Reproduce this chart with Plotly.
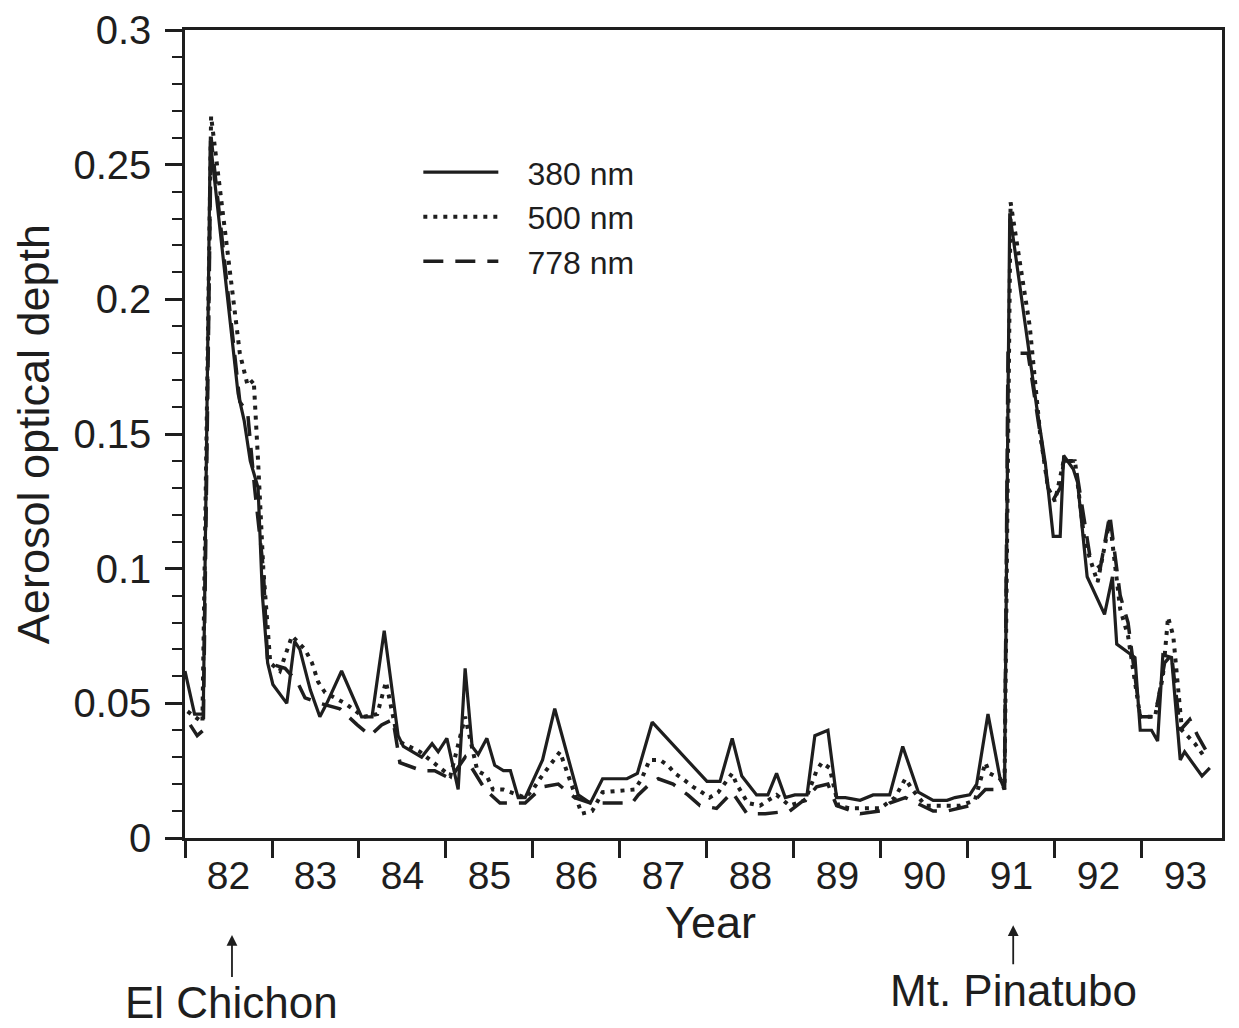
import plotly.graph_objects as go

# ---- data (year in two-digit form) ----
year_380 = [82.00, 82.11, 82.21, 82.29, 82.61, 82.68, 82.75, 82.84, 82.89, 82.95, 83.01, 83.17, 83.26, 83.32,
            83.44, 83.55, 83.63, 83.80, 84.03, 84.15, 84.29, 84.45, 84.51, 84.72, 84.84, 84.91, 85.01, 85.14,
            85.22, 85.30, 85.37, 85.47, 85.56, 85.66, 85.74, 85.83, 85.91, 86.11, 86.25, 86.52, 86.66, 86.80,
            87.08, 87.20, 87.37, 88.00, 88.15, 88.29, 88.40, 88.57, 88.70, 88.80, 88.90, 89.01, 89.15, 89.24,
            89.39, 89.49, 89.59, 89.76, 89.91, 90.10, 90.25, 90.43, 90.60, 90.76, 90.85, 91.02, 91.10, 91.23,
            91.37, 91.42, 91.48, 91.79, 91.89, 91.94, 91.98, 92.06, 92.10, 92.21, 92.26, 92.37, 92.57, 92.66,
            92.71, 92.92, 92.98, 93.11, 93.18, 93.24, 93.34, 93.44, 93.49, 93.69, 93.78]
aod_380 = [0.062, 0.046, 0.046, 0.259, 0.165, 0.155, 0.140, 0.130, 0.090, 0.065, 0.057, 0.050, 0.073, 0.070,
           0.055, 0.045, 0.050, 0.062, 0.045, 0.045, 0.077, 0.038, 0.034, 0.030, 0.035, 0.032, 0.037, 0.018,
           0.063, 0.034, 0.031, 0.037, 0.027, 0.025, 0.025, 0.015, 0.015, 0.029, 0.048, 0.016, 0.013, 0.022,
           0.022, 0.024, 0.043, 0.021, 0.021, 0.037, 0.023, 0.016, 0.016, 0.024, 0.015, 0.016, 0.016, 0.038,
           0.040, 0.015, 0.015, 0.014, 0.016, 0.016, 0.034, 0.017, 0.014, 0.014, 0.015, 0.016, 0.020, 0.046,
           0.022, 0.018, 0.232, 0.160, 0.139, 0.125, 0.112, 0.112, 0.142, 0.137, 0.132, 0.097, 0.083, 0.097,
           0.072, 0.067, 0.040, 0.040, 0.036, 0.068, 0.067, 0.029, 0.032, 0.023, 0.026]

year_500 = [82.03, 82.20, 82.30, 82.46, 82.63, 82.72, 82.79, 82.84, 82.90, 82.98, 83.09, 83.23, 83.38, 83.46,
            83.53, 83.61, 83.84, 84.05, 84.21, 84.31, 84.45, 84.70, 84.90, 85.05, 85.22, 85.36, 85.47, 85.54,
            85.66, 85.91, 86.00, 86.08, 86.31, 86.56, 86.68, 86.80, 87.17, 87.25, 87.34, 87.46, 87.55, 87.63,
            87.72, 87.84, 87.94, 88.03, 88.13, 88.29, 88.34, 88.47, 88.61, 88.80, 88.95, 89.13, 89.26, 89.32,
            89.41, 89.51, 89.64, 89.87, 89.99, 90.16, 90.28, 90.36, 90.51, 90.74, 90.91, 91.08, 91.20, 91.25,
            91.37, 91.42, 91.49, 91.71, 91.83, 91.92, 92.00, 92.10, 92.23, 92.34, 92.49, 92.63, 92.75, 92.84,
            92.98, 93.15, 93.24, 93.30, 93.36, 93.46, 93.61, 93.72]
aod_500 = [0.047, 0.043, 0.268, 0.225, 0.180, 0.168, 0.170, 0.140, 0.100, 0.065, 0.062, 0.075, 0.070, 0.065,
           0.058, 0.054, 0.050, 0.045, 0.046, 0.058, 0.036, 0.032, 0.027, 0.023, 0.045, 0.025, 0.023, 0.018,
           0.018, 0.015, 0.018, 0.022, 0.032, 0.009, 0.010, 0.017, 0.018, 0.022, 0.029, 0.029, 0.027, 0.024,
           0.022, 0.019, 0.017, 0.015, 0.017, 0.024, 0.020, 0.013, 0.012, 0.016, 0.012, 0.014, 0.025, 0.028,
           0.026, 0.012, 0.011, 0.011, 0.011, 0.015, 0.022, 0.018, 0.012, 0.012, 0.012, 0.014, 0.028, 0.024,
           0.022, 0.018, 0.236, 0.190, 0.150, 0.130, 0.125, 0.140, 0.140, 0.110, 0.095, 0.118, 0.085, 0.075,
           0.045, 0.045, 0.060, 0.082, 0.075, 0.040, 0.035, 0.030]

year_778 = [82.06, 82.14, 82.21, 82.30, 82.63, 82.72, 82.80, 82.90, 82.95, 83.15, 83.29, 83.38, 83.55, 83.78,
            83.98, 84.13, 84.26, 84.39, 84.47, 84.72, 84.87, 85.05, 85.22, 85.45, 85.62, 85.91, 86.11, 86.29,
            86.48, 86.66, 87.00, 87.14, 87.21, 87.34, 87.44, 87.61, 87.78, 87.92, 88.11, 88.29, 88.46, 88.67,
            88.95, 89.15, 89.26, 89.39, 89.49, 89.76, 89.99, 90.10, 90.28, 90.60, 90.76, 91.02, 91.20, 91.37,
            91.42, 91.46, 91.69, 91.83, 91.92, 91.97, 92.06, 92.10, 92.23, 92.40, 92.52, 92.63, 92.75, 92.84,
            92.98, 93.15, 93.26, 93.34, 93.44, 93.55, 93.64, 93.78]
aod_778 = [0.042, 0.038, 0.040, 0.260, 0.162, 0.158, 0.130, 0.100, 0.065, 0.063, 0.058, 0.052, 0.050, 0.048,
           0.042, 0.038, 0.042, 0.044, 0.028, 0.025, 0.025, 0.022, 0.030, 0.018, 0.013, 0.013, 0.019, 0.020,
           0.015, 0.013, 0.013, 0.013, 0.016, 0.020, 0.022, 0.020, 0.016, 0.012, 0.011, 0.017, 0.009, 0.009,
           0.010, 0.015, 0.019, 0.020, 0.012, 0.009, 0.010, 0.013, 0.015, 0.010, 0.010, 0.012, 0.018, 0.018,
           0.018, 0.180, 0.180, 0.150, 0.130, 0.125, 0.130, 0.140, 0.140, 0.105, 0.100, 0.120, 0.090, 0.080,
           0.045, 0.045, 0.065, 0.068, 0.040, 0.044, 0.038, 0.030]

year_ticks = [82, 83, 84, 85, 86, 87, 88, 89, 90, 91, 92, 93]
year_labels = ["82", "83", "84", "85", "86", "87", "88", "89", "90", "91", "92", "93"]
y_ticks = [0, 0.05, 0.1, 0.15, 0.2, 0.25, 0.3]
y_labels = ["0", "0.05", "0.1", "0.15", "0.2", "0.25", "0.3"]

INK = "#1e1e1e"
FONT = "Liberation Sans, Arial, sans-serif"
NB = "\u00a0\u00a0\u2009"

fig = go.Figure()
fig.add_trace(go.Scatter(x=year_380, y=aod_380, mode="lines", name=NB + "380 nm",
                         line=dict(color=INK, width=3.2)))
fig.add_trace(go.Scatter(x=year_500, y=aod_500, mode="lines", name=NB + "500 nm",
                         line=dict(color=INK, width=4, dash="4px,6px")))
fig.add_trace(go.Scatter(x=year_778, y=aod_778, mode="lines", name=NB + "778 nm",
                         line=dict(color=INK, width=3.5, dash="20px,12px")))

xr = [82, 93.92]
fig.update_layout(
    width=1231, height=1020,
    margin=dict(l=177, r=17, t=22, b=190),
    paper_bgcolor="white", plot_bgcolor="white",
    font=dict(family=FONT, color=INK),
    showlegend=True,
    legend=dict(x=0.225, y=0.858, xanchor="left", yanchor="top",
                bgcolor="rgba(0,0,0,0)", font=dict(size=32, family=FONT, color=INK),
                itemwidth=75, tracegroupgap=0),
    xaxis=dict(range=xr, tickvals=year_ticks, showticklabels=False, automargin=False,
               ticks="outside", ticklen=17, tickwidth=2.5, tickcolor=INK,
               showline=True, linecolor=INK, linewidth=2.5, mirror=True,
               showgrid=False, zeroline=False),
    xaxis2=dict(range=xr, overlaying="x", anchor="y", side="bottom", automargin=False,
                tickvals=[t + 0.5 for t in year_ticks], ticktext=year_labels,
                ticks="outside", ticklen=3, tickcolor="rgba(0,0,0,0)",
                tickfont=dict(size=39, family=FONT, color=INK),
                showline=False, showgrid=False, zeroline=False),
    yaxis=dict(range=[0, 0.3], tickvals=y_ticks, ticktext=y_labels, automargin=False,
               ticks="outside", ticklen=17, tickwidth=2.5, tickcolor=INK,
               ticklabelstandoff=6,
               tickfont=dict(size=40, family=FONT, color=INK),
               minor=dict(dtick=0.01, ticks="outside", ticklen=10, tickwidth=2, tickcolor=INK),
               showline=True, linecolor=INK, linewidth=2.5, mirror=True,
               showgrid=False, zeroline=False,
               title=dict(text="Aerosol optical depth", font=dict(size=45, family=FONT, color=INK),
                          standoff=10)),
)

fig.add_trace(go.Scatter(x=[], y=[], xaxis="x2", showlegend=False))

fig.add_annotation(x=0.507, xref="paper", y=-0.104, yref="paper", text="Year",
                   showarrow=False, xanchor="center", yanchor="middle",
                   font=dict(size=45, family=FONT, color=INK))
fig.add_annotation(x=82.54, xref="x", y=-0.12, yref="paper", text="El Chichon",
                   showarrow=True, arrowhead=2, arrowsize=1.2, arrowwidth=1.8, arrowcolor=INK,
                   ax=0, ay=68, font=dict(size=44, family=FONT, color=INK))
fig.add_annotation(x=91.52, xref="x", y=-0.108, yref="paper", text="Mt. Pinatubo",
                   showarrow=True, arrowhead=2, arrowsize=1.2, arrowwidth=1.8, arrowcolor=INK,
                   ax=0, ay=65, font=dict(size=44, family=FONT, color=INK))

fig.write_html("out.html")
